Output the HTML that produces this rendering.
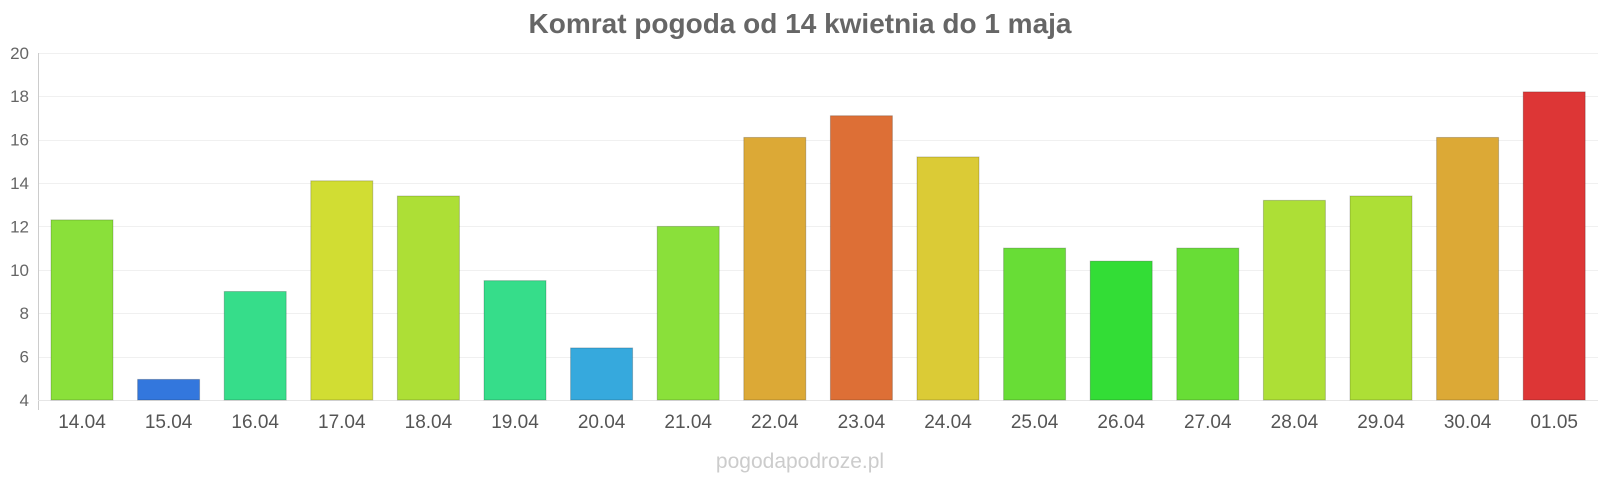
<!DOCTYPE html>
<html><head><meta charset="utf-8"><style>
body{margin:0;background:#fff;width:1600px;height:480px;overflow:hidden;font-family:"Liberation Sans",sans-serif;}
</style></head><body>
<svg width="1600" height="480" xmlns="http://www.w3.org/2000/svg" font-family="Liberation Sans, sans-serif">
<text x="800" y="33" text-anchor="middle" font-size="28" font-weight="bold" fill="#666">Komrat pogoda od 14 kwietnia do 1 maja</text>
<g id="grid" stroke="#f0f0f0" stroke-width="1"></g>
<line x1="38.5" x2="38.5" y1="53" y2="410" stroke="#ccc"/>
<line x1="38" x2="1598" y1="400.5" y2="400.5" stroke="#e6e6e6"/>
<g id="ylab" font-size="17" fill="#666" text-anchor="end"></g>
<g id="bars" stroke-width="1"></g>
<g id="labs" font-size="19" fill="#555" text-anchor="middle"></g>
<text x="800" y="468" text-anchor="middle" font-size="21" fill="#ccc">pogodapodroze.pl</text>
</svg>
<script>
var v=[12.3,4.95,9.0,14.1,13.4,9.5,6.4,12.0,16.1,17.1,15.2,11.0,10.4,11.0,13.2,13.4,16.1,18.2];
var c=["#8ae03a","#3377dd","#36dd8a","#d1dd33","#addf36","#36dd8a","#36a9dd","#8ae03a","#dca936","#dd6f36","#dbcb36","#68dd36","#33dd36","#68dd36","#addf36","#addf36","#dca936","#dd3636"];
var d=["14.04","15.04","16.04","17.04","18.04","19.04","20.04","21.04","22.04","23.04","24.04","25.04","26.04","27.04","28.04","29.04","30.04","01.05"];
var u=21.7,b="",l="",g="",yl="",w=86.6;
for(var t=4;t<=20;t+=2){var y=400-(t-4)*u;
if(t>4)g+='<line x1="38" x2="1598" y1="'+(Math.round(y)+.5)+'" y2="'+(Math.round(y)+.5)+'"/>';
yl+='<text x="29" y="'+(y+6)+'">'+t+'</text>';}
for(var i=0;i<18;i++){var cx=82+w*i,y=400-(v[i]-4)*u;
b+='<rect x="'+(cx-31)+'" y="'+y+'" width="62" height="'+(400-y)+'" fill="'+c[i]+'" stroke="rgba(0,0,0,0.2)"/>';
l+='<text x="'+cx+'" y="428">'+d[i]+'</text>';}
document.getElementById("grid").innerHTML=g;document.getElementById("ylab").innerHTML=yl;
document.getElementById("bars").innerHTML=b;document.getElementById("labs").innerHTML=l;
</script>
</body></html>
